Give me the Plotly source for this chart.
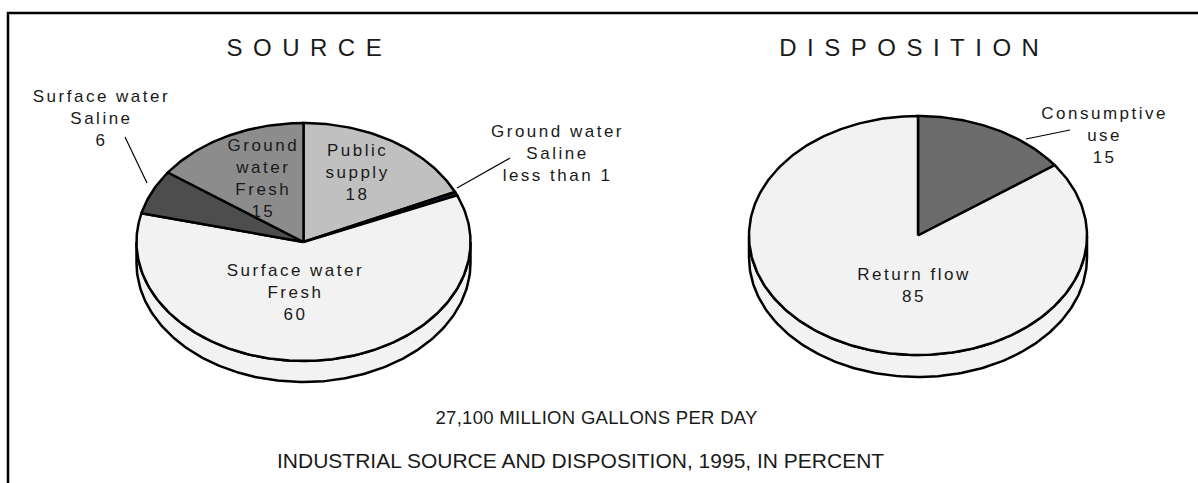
import json
import numpy as np
import plotly.graph_objects as go

W, H = 1198, 483

# ---------------- data ----------------
source_labels = ["Public supply", "Ground water Saline", "Surface water Fresh",
                 "Surface water Saline", "Ground water Fresh"]
source_values = [18, 0.5, 60, 6, 15]
source_colors = ["#c0c0c0", "#1c1c3a", "#f2f2f2", "#4d4d4d", "#8c8c8c"]
source_text = ["Public<br>supply<br>18", "Ground water<br>Saline<br>less than 1",
               "Surface water<br>Fresh<br>60", "Surface water<br>Saline<br>6",
               "Ground<br>water<br>Fresh<br>15"]

disp_labels = ["Consumptive use", "Return flow"]
disp_values = [15, 85]
disp_colors = ["#6b6b6b", "#f2f2f2"]
disp_text = ["Consumptive<br>use<br>15", "Return flow<br>85"]

titles = ["SOURCE", "DISPOSITION"]
total_text = "27,100 MILLION GALLONS PER DAY"
caption_text = "INDUSTRIAL SOURCE AND DISPOSITION, 1995, IN PERCENT"

# ---------------- geometry / style ----------------
FONT = "Liberation Sans, Arial, sans-serif"
TXT = "#1a1a1a"
LW = 2.5

pies = [
    dict(values=source_values, colors=source_colors, names=source_labels,
         cx=303.5, cy=242, rx=167, ry=119, depth=21),
    dict(values=disp_values, colors=disp_colors, names=disp_labels,
         cx=918, cy=235.5, rx=169, ry=119.5, depth=22),
]

fig = go.Figure()


def ell(p, th, dy=0.0):
    return p["cx"] + p["rx"] * np.sin(th), p["cy"] - p["ry"] * np.cos(th) + dy


def arc(p, a0, a1, dy=0.0):
    n = max(3, int(np.degrees(abs(a1 - a0))) + 3)
    th = np.linspace(a0, a1, n)
    return ell(p, th, dy)


side_traces = []
top_traces = []
for p in pies:
    vals = np.array(p["values"], dtype=float)
    frac = vals / vals.sum()
    edges = np.concatenate([[0.0], np.cumsum(frac)]) * 2 * np.pi
    for i, (a0, a1) in enumerate(zip(edges[:-1], edges[1:])):
        col = p["colors"][i]
        # visible side wall (front half of the disc)
        s, e = max(a0, np.pi / 2), min(a1, 3 * np.pi / 2)
        if e > s:
            xt, yt = arc(p, s, e)
            xb, yb = arc(p, e, s, p["depth"])
            side_traces.append(go.Scatter(
                x=np.concatenate([xt, xb, xt[:1]]), y=np.concatenate([yt, yb, yt[:1]]),
                mode="lines", fill="toself", fillcolor=col,
                line=dict(color="black", width=LW), hoverinfo="skip",
                showlegend=False, name=p["names"][i]))
        xa, ya = arc(p, a0, a1)
        top_traces.append(go.Scatter(
            x=np.concatenate([[p["cx"]], xa, [p["cx"]]]),
            y=np.concatenate([[p["cy"]], ya, [p["cy"]]]),
            mode="lines", fill="toself", fillcolor=col,
            line=dict(color="black", width=LW), hoverinfo="skip",
            showlegend=False, name=p["names"][i]))

for t in side_traces + top_traces:
    fig.add_trace(t)

annotations = []
spacings = []


def add_text(text, x, y, size, spacing=0.0, xanchor="center"):
    annotations.append(dict(x=x, y=y, xref="x", yref="y", text=text, showarrow=False,
                            xanchor=xanchor, yanchor="middle", align="center",
                            font=dict(family=FONT, size=size, color=TXT)))
    spacings.append(spacing)


# titles (letter spaced)
add_text(titles[0], 309.5, 47, 24, 10.5)
add_text(titles[1], 914.5, 47, 24, 10.5)

# slice labels
add_text(source_text[0], 358, 172, 17, 2.5)
add_text(source_text[1], 557, 153, 17, 2.5)
add_text(source_text[2], 295, 292, 17, 2.5)
add_text(source_text[3], 101, 118, 17, 2.5)
add_text(source_text[4], 263, 178, 17, 2.5)
add_text(disp_text[0], 1104, 135, 17, 2.5)
add_text(disp_text[1], 914, 285, 17, 2.5)

# bottom captions
add_text(total_text, 438, 417, 18.5, 0.3, xanchor="left")
add_text(caption_text, 275, 460, 21, 0.0, xanchor="left")

shapes = [
    # frame (right / bottom edges run off the picture)
    dict(type="rect", xref="x", yref="y", x0=8, y0=13, x1=W + 20, y1=H + 20,
         line=dict(color="black", width=2.5), fillcolor="rgba(0,0,0,0)", layer="below"),
    # leader lines
    dict(type="line", xref="x", yref="y", x0=125, y0=137, x1=147, y1=183,
         line=dict(color="black", width=1.2)),
    dict(type="line", xref="x", yref="y", x0=510, y0=158, x1=457, y1=188,
         line=dict(color="black", width=1.2)),
    dict(type="line", xref="x", yref="y", x0=1070, y0=130, x1=1026, y1=139,
         line=dict(color="black", width=1.2)),
]

fig.update_layout(
    width=W, height=H, margin=dict(l=0, r=0, t=0, b=0),
    paper_bgcolor="white", plot_bgcolor="white",
    xaxis=dict(range=[0, W], visible=False, fixedrange=True),
    yaxis=dict(range=[H, 0], visible=False, fixedrange=True),
    showlegend=False, annotations=annotations, shapes=shapes,
    font=dict(family=FONT, color=TXT),
)

post = """
document.body.style.margin = '0';
document.body.style.padding = '0';
document.body.style.overflow = 'hidden';
var gd = document.getElementById('{plot_id}');
var sp = %s;
function applySp(){
  sp.forEach(function(s, i){
    var t = gd.querySelector('.annotation[data-index="' + i + '"] text.annotation-text');
    if (t) { t.style.letterSpacing = s + 'px'; }
  });
}
applySp();
gd.on('plotly_afterplot', applySp);
""" % json.dumps(spacings)

fig.write_html("out.html", post_script=post, config={"displayModeBar": False, "staticPlot": True})
